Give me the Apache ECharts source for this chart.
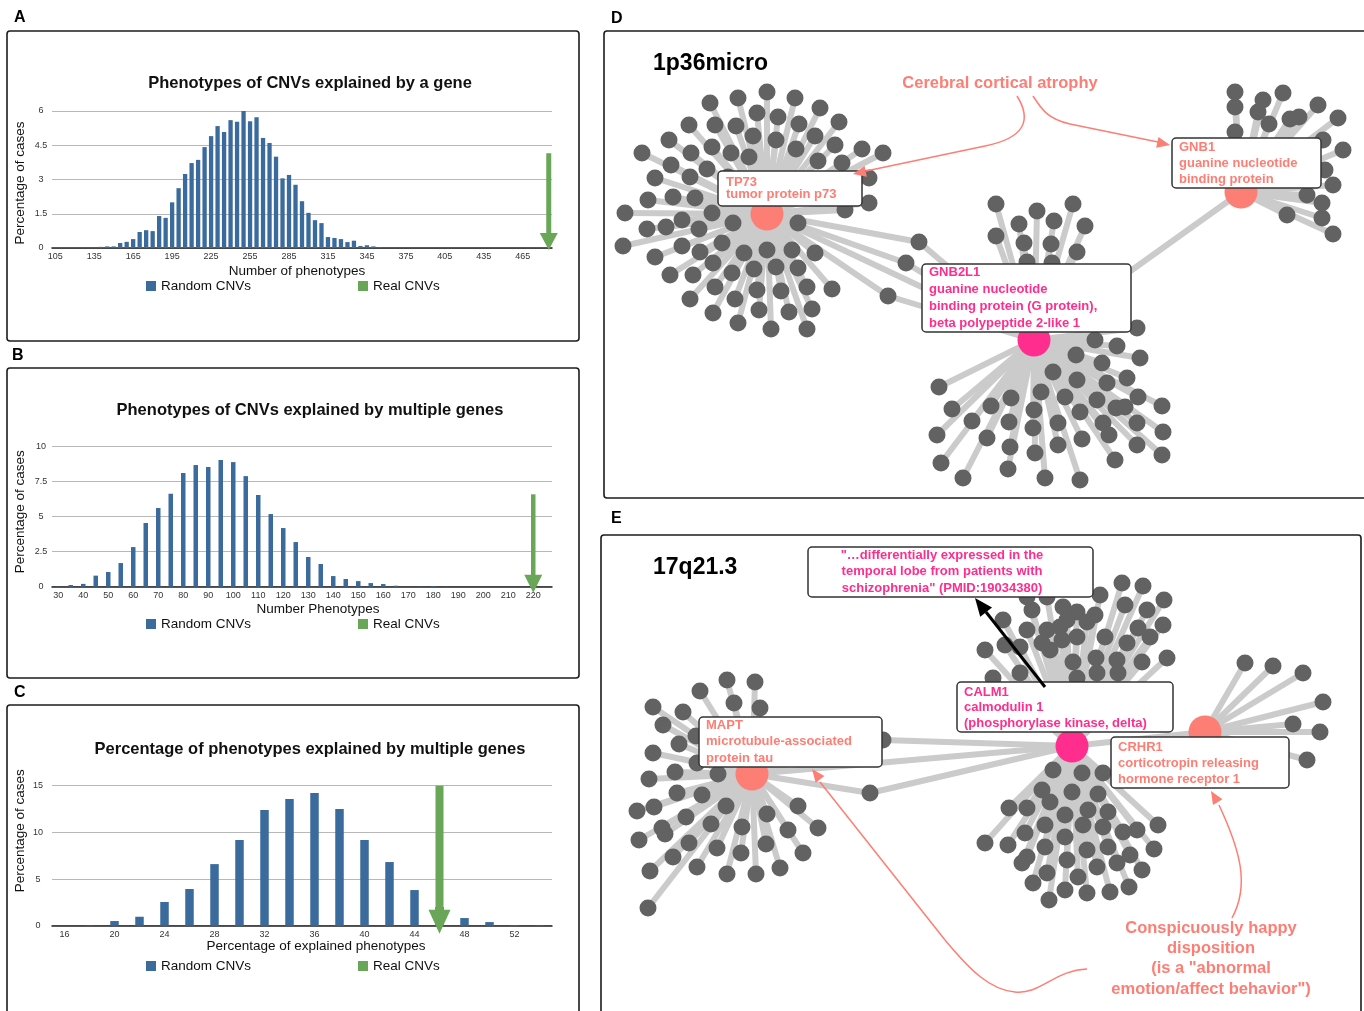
<!DOCTYPE html>
<html><head><meta charset="utf-8">
<script src="https://cdn.jsdelivr.net/npm/echarts@6/dist/echarts.min.js"></script>
<style>html,body{margin:0;padding:0;background:#fff}#c{width:1364px;height:1011px}</style>
</head><body><div id="c"></div>
<script>
// ---------------- DATA ----------------
const catsA = ['105','110','115','120','125','130','135','140','145','150','155','160','165','170','175','180','185','190','195','200','205','210','215','220','225','230','235','240','245','250','255','260','265','270','275','280','285','290','295','300','305','310','315','320','325','330','335','340','345','350','355','360','365','370','375','380','385','390','395','400','405','410','415','420','425','430','435','440','445','450','455','460','465','470','475','480','485'];
const valsA = [0.01,0.01,0.01,0.01,0.01,0.01,0.01,0.05,0.07,0.07,
 0.22,0.27,0.39,0.7,0.78,0.74,1.4,1.32,2.0,2.62,
 3.24,3.72,3.86,4.42,4.9,5.34,5.08,5.6,5.53,6.0,
 5.55,5.73,4.82,4.6,4.0,3.05,3.2,2.77,2.05,1.54,
 1.22,1.09,0.48,0.44,0.39,0.26,0.32,0.09,0.12,0.07,
 0.03,0,0,0,0,0,0,0,0,0,
 0,0,0,0,0,0,0,0,0,0,
 0,0,0,0,0,0,0];
const realA = [['485', 4.15]];
const yA = {max: 6, step: 1.5};

const catsB = ['30','35','40','45','50','55','60','65','70','75','80','85','90','95','100','105','110','115','120','125','130','135','140','145','150','155','160','165','170','175','180','185','190','195','200','205','210','215','220','225'];
const valsB = [0.02,0.12,0.2,0.79,1.05,1.69,2.83,4.55,5.62,6.64,
 8.12,8.69,8.55,9.05,8.9,7.9,6.55,5.19,4.19,3.19,
 2.12,1.62,0.76,0.55,0.4,0.26,0.19,0.07,0.01,0.02,
 0.05,0.01,0,0,0,0,0,0,0,0];
const realB = [['220', 6.6]];
const yB = {max: 10, step: 2.5};

const catsC = ['16','18','20','22','24','26','28','30','32','34','36','38','40','42','44','46','48','50','52','54'];
const valsC = [0,0.04,0.5,0.96,2.54,3.93,6.6,9.18,12.39,13.57,14.21,12.5,9.18,6.82,3.82,2.0,0.82,0.39,0.07,0.05];
const realC = [['46', 15]];
const yC = {max: 15, step: 5};

// network D (1p36micro) : node positions
const hubsD = [['TP73',767,214],['GNB2L1',1034,340],['GNB1',1241,192]];
const leavesTP73 = [[710,103],[738,98],[767,92],[795,98],[820,108],[839,122],
 [689,125],[715,125],[736,126],[757,113],[778,117],[799,124],[815,136],[835,145],[862,149],[883,153],
 [669,140],[691,153],[712,147],[731,153],[753,136],[776,140],[796,149],[818,161],[842,163],[869,178],
 [642,153],[671,165],[690,177],[707,169],[728,177],[749,157],
 [655,178],[648,200],[673,197],[695,198],[712,213],
 [625,213],[647,229],[666,227],[682,220],[699,229],[733,223],[798,223],[845,210],[869,203],
 [623,246],[655,257],[682,246],[700,252],[722,243],[744,253],[767,250],[792,250],[815,253],
 [670,275],[693,275],[713,263],[732,273],[754,269],[776,267],[798,268],
 [690,299],[715,287],[735,299],[757,290],[781,291],[807,287],[832,289],
 [713,313],[738,323],[759,310],[789,312],[812,309],[771,329],[807,329]];
const leavesGNB2L1 = [[996,204],[1037,211],[1073,204],[1019,224],[1054,221],[1085,226],[996,236],[1024,243],[1051,244],[1077,252],[1027,262],[1052,263],
 [1137,328],[1095,340],[1117,346],[1140,358],[1076,355],[1102,363],[939,387],[1053,372],[1077,380],[1107,383],[1127,378],
 [952,409],[991,406],[1011,398],[1041,392],[1065,397],[1097,400],[1116,408],[1138,397],[1162,406],
 [972,421],[1009,422],[1034,410],[1058,423],[1080,412],[1103,423],[1137,423],[1163,432],
 [937,435],[987,438],[1033,428],[1082,439],[1109,435],[1010,447],[1035,453],[1058,445],[1137,445],[1162,455],
 [941,463],[1008,469],[1115,460],[963,478],[1045,478],[1080,480],[1125,407]];
const leavesGNB1 = [[1235,92],[1235,107],[1263,100],[1283,93],[1258,112],[1269,124],[1290,119],[1299,117],[1318,105],[1338,118],
 [1235,132],[1323,140],[1343,150],[1325,170],[1333,185],[1307,195],[1322,203],[1287,215],[1322,218],[1333,234]];
const bridgeTP73_GNB2L1 = [[919,242],[906,263],[888,296]];
const hubEdgesD = [['TP73','GNB2L1'],['GNB2L1','GNB1']];

// network E (17q21.3)
const hubsE = [['MAPT',752,774],['CALM1',1072,746],['CRHR1',1205,732]];
const leavesMAPT = [[727,680],[755,682],[700,691],[734,703],[760,708],[653,707],[683,712],[663,725],[679,744],[697,763],[696,736],
 [653,753],[675,772],[718,774],[649,779],[677,793],[702,795],[637,811],[654,807],[686,817],[711,824],[726,806],
 [662,828],[639,840],[665,834],[689,843],[717,848],[742,827],[767,814],[798,806],[818,828],[788,830],[766,844],
 [741,853],[673,857],[697,867],[727,874],[756,874],[780,868],[803,853],[650,871],[648,908]];
const leavesCALM1 = [[1122,583],[1143,586],[1164,600],[1147,610],[1125,605],[1163,625],[1150,637],[1138,628],[1167,658],[1142,662],
 [1127,643],[1117,660],[1118,673],[1096,658],[1105,637],[1095,615],[1100,595],[1077,612],[1063,607],[1060,627],
 [1077,637],[1050,650],[1073,662],[1097,673],[1077,678],[1047,630],[1027,630],[1032,610],[1020,647],[1003,620],
 [985,650],[1005,645],[1020,673],[993,678],[1027,597],[1047,597],[1067,620],[1087,622],[1062,640],[1042,643],
 [1053,770],[1082,773],[1103,773],[1042,790],[1072,792],[1098,794],[1009,808],[1027,808],[1050,802],[1065,815],
 [1088,810],[1108,812],[1137,830],[1158,825],[985,843],[1008,845],[1025,833],[1045,825],[1065,837],[1083,825],
 [1103,827],[1123,832],[1154,849],[1027,857],[1045,847],[1067,860],[1087,850],[1108,847],[1130,855],[1022,863],
 [1047,873],[1078,877],[1097,867],[1117,863],[1142,870],[1033,883],[1065,890],[1087,893],[1110,892],[1129,887],[1049,900]];
const leavesCRHR1 = [[1245,663],[1273,666],[1303,673],[1323,702],[1293,724],[1320,732],[1307,760]];
const bridgeMAPT_CALM1 = [[883,740],[870,793]];
const hubEdgesE = [['MAPT','CALM1'],['CALM1','CRHR1']];

// ---------------- STYLE ----------------
const FONT = '"Liberation Sans", Arial, Helvetica, sans-serif';
const BLUE = '#3b6b9c', GREEN = '#6aa657';
const SALMON = '#fd7e74', PINK = '#ff2d8d', NODE = '#626262', EDGE = '#cbcbcb';
const hubColor = {TP73:SALMON, GNB2L1:PINK, GNB1:SALMON, MAPT:SALMON, CALM1:PINK, CRHR1:SALMON};

// ---------------- BUILD NETWORK ----------------
const nodes = [], links = [], pending = [], hubIdx = {};
function addLeaves(list, hubs){
  list.forEach(p => { const i = nodes.length; nodes.push({value:p, symbolSize:17, itemStyle:{color:NODE}}); hubs.forEach(h => pending.push([i,h])); });
}
addLeaves(leavesTP73,['TP73']); addLeaves(leavesGNB2L1,['GNB2L1']); addLeaves(leavesGNB1,['GNB1']);
addLeaves(bridgeTP73_GNB2L1,['TP73','GNB2L1']);
addLeaves(leavesMAPT,['MAPT']); addLeaves(leavesCALM1,['CALM1']); addLeaves(leavesCRHR1,['CRHR1']);
addLeaves(bridgeMAPT_CALM1,['MAPT','CALM1']);
hubsD.concat(hubsE).forEach(h => { hubIdx[h[0]] = nodes.length; nodes.push({name:h[0], value:[h[1],h[2]], symbolSize:33, itemStyle:{color:hubColor[h[0]]}}); });
pending.forEach(([i,h]) => links.push({source:i, target:hubIdx[h]}));
hubEdgesD.concat(hubEdgesE).forEach(([a,b]) => links.push({source:hubIdx[a], target:hubIdx[b]}));

// ---------------- CHART HELPERS ----------------
function arrowRenderer(shaftW, headW, headH, over){
  return function(params, api){
    const x = api.value(0);
    const p0 = api.coord([x, api.value(1)]);
    const p1 = api.coord([x, 0]);
    const tip = p1[1] + over;
    const col = api.visual('color');
    return {type:'group', children:[
      {type:'rect', shape:{x:p0[0]-shaftW/2, y:p0[1], width:shaftW, height:tip-headH-p0[1]+1}, style:{fill:col}},
      {type:'polygon', shape:{points:[[p0[0]-headW/2, tip-headH],[p0[0]+headW/2, tip-headH],[p0[0], tip]]}, style:{fill:col}}
    ]};
  };
}
function xAx(gi, cats, interval, name, gap, pad){
  return {gridIndex:gi, type:'category', data:cats,
    axisLine:{lineStyle:{color:'#222', width:1.5}},
    axisTick:{interval:0, length:4, lineStyle:{color:'#222'}},
    axisLabel:{interval:interval, fontSize:9, color:'#333', fontFamily:FONT, margin:4},
    name:name, nameLocation:'middle', nameGap:gap,
    nameTextStyle:{fontSize:13.5, color:'#111', fontFamily:FONT, padding:pad}};
}
function yAx(gi, y, margin, pad){
  return {gridIndex:gi, type:'value', min:0, max:y.max, interval:y.step,
    axisLine:{show:false}, axisTick:{show:false},
    axisLabel:{fontSize:9, color:'#333', fontFamily:FONT, align:'center', margin:margin},
    splitLine:{lineStyle:{color:'#b8b8b8', width:1}},
    name:'Percentage of cases', nameLocation:'middle', nameGap:25, nameRotate:90,
    nameTextStyle:{fontSize:13.5, color:'#111', fontFamily:FONT, padding:pad}};
}
function legendPair(top){
  const base = {icon:'rect', itemWidth:10, itemHeight:10, padding:0, selectedMode:false,
    textStyle:{fontSize:13.5, color:'#111', fontFamily:FONT}, top:top};
  return [Object.assign({data:['Random CNVs'], left:146}, base), Object.assign({data:['Real CNVs'], left:358}, base)];
}

// ---------------- GRAPHICS ----------------
const G = [];
function border(x,y,w,h){ G.push({type:'rect', shape:{x,y,width:w,height:h,r:3}, style:{fill:'none', stroke:'#1c1c1c', lineWidth:1.6}, z:1}); }
function txt(x,y,text,font,fill,align){ G.push({type:'text', x, y, style:{text, font, fill, align:align||'left', verticalAlign:'middle'}, z:110}); }
function labelBox(x,y,w,h,lines,color,tx,firstY,lh){
  G.push({type:'rect', shape:{x,y,width:w,height:h,r:4}, style:{fill:'#fff', stroke:'#333', lineWidth:1.5}, z:100});
  G.push({type:'text', x:tx, y:firstY-lh/2, style:{text:lines.join('\n'), font:'bold 13px '+FONT, fill:color, lineHeight:lh, align:'left', verticalAlign:'top'}, z:101});
}
function centerBox(x,y,w,h,lines,color,cx,firstY,lh){
  G.push({type:'rect', shape:{x,y,width:w,height:h,r:4}, style:{fill:'#fff', stroke:'#333', lineWidth:1.5}, z:100});
  G.push({type:'text', x:cx, y:firstY-lh/2, style:{text:lines.join('\n'), font:'bold 13px '+FONT, fill:color, lineHeight:lh, align:'center', verticalAlign:'top'}, z:101});
}
function curve(p0,p1,p2,p3,col,w){ G.push({type:'bezierCurve', shape:{x1:p0[0],y1:p0[1],cpx1:p1[0],cpy1:p1[1],cpx2:p2[0],cpy2:p2[1],x2:p3[0],y2:p3[1]}, style:{stroke:col, lineWidth:w, fill:'none'}, z:120}); }
function seg(a,b,col,w){ G.push({type:'line', shape:{x1:a[0],y1:a[1],x2:b[0],y2:b[1]}, style:{stroke:col, lineWidth:w}, z:120}); }
function head(tip, from, len, hw, col){
  const dx = tip[0]-from[0], dy = tip[1]-from[1], L = Math.hypot(dx,dy), ux = dx/L, uy = dy/L;
  const bx = tip[0]-ux*len, by = tip[1]-uy*len;
  G.push({type:'polygon', shape:{points:[[tip[0],tip[1]],[bx-uy*hw, by+ux*hw],[bx+uy*hw, by-ux*hw]]}, style:{fill:col}, z:121});
}

border(7,31,572,310); border(7,368,572,310); border(7,705,572,320);
border(604,31,780,467); border(601,535,760,490);
const LF = 'bold 16px '+FONT;
txt(14,18,'A',LF,'#000'); txt(12,356,'B',LF,'#000'); txt(14,693,'C',LF,'#000');
txt(611,19,'D',LF,'#000'); txt(611,519,'E',LF,'#000');
const TF = 'bold 16.5px '+FONT;
txt(310,83,'Phenotypes of CNVs explained by a gene',TF,'#111','center');
txt(310,410,'Phenotypes of CNVs explained by multiple genes',TF,'#111','center');
txt(310,749,'Percentage of phenotypes explained by multiple genes',TF,'#111','center');

txt(653,64,'1p36micro','bold 23px '+FONT,'#000');
txt(653,568,'17q21.3','bold 23px '+FONT,'#000');

labelBox(718,171,144,35,['TP73','tumor protein p73'],SALMON,726,182,12.6);
labelBox(1172,138,149,50,['GNB1','guanine nucleotide','binding protein'],SALMON,1179,147,16.3);
labelBox(922,264,209,68,['GNB2L1','guanine nucleotide','binding protein (G protein),','beta polypeptide 2-like 1'],PINK,929,272,17);
centerBox(808,547,285,50,['"…differentially expressed in the','temporal lobe from patients with','schizophrenia" (PMID:19034380)'],PINK,942,555,16.5);
labelBox(957,682,216,50,['CALM1','calmodulin 1','(phosphorylase kinase, delta)'],PINK,964,692,15.8);
labelBox(699,717,183,50,['MAPT','microtubule-associated','protein tau'],SALMON,706,725,16.8);
labelBox(1111,737,178,51,['CRHR1','corticotropin releasing','hormone receptor 1'],SALMON,1118,747,16.2);

const AF = 'bold 16.5px '+FONT;
txt(1000,83,'Cerebral cortical atrophy',AF,SALMON,'center');
G.push({type:'text', x:1211, y:918, style:{text:'Conspicuously happy\ndisposition\n(is a "abnormal\nemotion/affect behavior")', font:AF, fill:SALMON, lineHeight:20.3, align:'center', verticalAlign:'top'}, z:110});

// annotation curves
curve([1017,96],[1032,120],[1025,138],[985,146],SALMON,1.5); seg([985,146],[866,171],SALMON,1.5); head([853,174],[985,146],13,5.5,SALMON);
curve([1033,96],[1042,110],[1048,119],[1070,124],SALMON,1.5); seg([1070,124],[1158,142],SALMON,1.5); head([1170,145],[1070,124],13,5.5,SALMON);
curve([1232,918],[1250,885],[1240,850],[1219,805],SALMON,1.5); head([1211,791],[1220,806],13,5.5,SALMON);
curve([1087,969],[1055,970],[1040,995],[1015,992],SALMON,1.5); curve([1015,992],[990,990],[970,970],[945,940],SALMON,1.5);
seg([945,940],[820,782],SALMON,1.5); head([812,769],[945,940],13,5.5,SALMON);
seg([1045,687],[986,612],'#000',3); head([975,598],[1045,687],18,7.5,'#000');

// ---------------- OPTION ----------------
const option = {
  animation:false, backgroundColor:'#fff',
  grid:[
    {left:52, top:111, width:500, height:137},
    {left:52, top:446.7, width:500, height:140},
    {left:52, top:785.7, width:500, height:140},
    {left:0, top:0, width:1364, height:1011}
  ],
  xAxis:[
    xAx(0, catsA, 5, 'Number of phenotypes', 16, [0,10,0,0]),
    xAx(1, catsB, 1, 'Number Phenotypes', 16, [0,0,0,32]),
    xAx(2, catsC, 1, 'Percentage of explained phenotypes', 14, [0,0,0,28]),
    {gridIndex:3, type:'value', min:0, max:1364, show:false}
  ],
  yAxis:[
    yAx(0, yA, 11, [0,7,0,0]),
    yAx(1, yB, 11, [0,0,0,10]),
    yAx(2, yC, 14, [0,0,0,50]),
    {gridIndex:3, type:'value', min:0, max:1011, inverse:true, show:false}
  ],
  legend:[].concat(legendPair(279), legendPair(617), legendPair(959)),
  series:[
    {name:'Random CNVs', type:'bar', xAxisIndex:0, yAxisIndex:0, data:valsA, barWidth:4.3, itemStyle:{color:BLUE}, silent:true},
    {name:'Real CNVs', type:'custom', xAxisIndex:0, yAxisIndex:0, data:realA, encode:{x:0,y:1}, clip:false, itemStyle:{color:GREEN}, renderItem:arrowRenderer(5,18,17,2), silent:true, z:5},
    {name:'Random CNVs', type:'bar', xAxisIndex:1, yAxisIndex:1, data:valsB, barWidth:4.5, itemStyle:{color:BLUE}, silent:true},
    {name:'Real CNVs', type:'custom', xAxisIndex:1, yAxisIndex:1, data:realB, encode:{x:0,y:1}, clip:false, itemStyle:{color:GREEN}, renderItem:arrowRenderer(4.5,18,18,6), silent:true, z:5},
    {name:'Random CNVs', type:'bar', xAxisIndex:2, yAxisIndex:2, data:valsC, barWidth:8.5, itemStyle:{color:BLUE}, silent:true},
    {name:'Real CNVs', type:'custom', xAxisIndex:2, yAxisIndex:2, data:realC, encode:{x:0,y:1}, clip:false, itemStyle:{color:GREEN}, renderItem:arrowRenderer(8,22,24,8), silent:true, z:5},
    {type:'graph', coordinateSystem:'cartesian2d', xAxisIndex:3, yAxisIndex:3, layout:'none', symbol:'circle',
     data:nodes, links:links, lineStyle:{color:EDGE, width:6, opacity:1, curveness:0}, label:{show:false},
     emphasis:{disabled:true}, silent:true, z:2}
  ],
  graphic:{elements:G}
};
const chart = echarts.init(document.getElementById('c'), null, {renderer:'canvas'});
chart.setOption(option);
</script></body></html>
